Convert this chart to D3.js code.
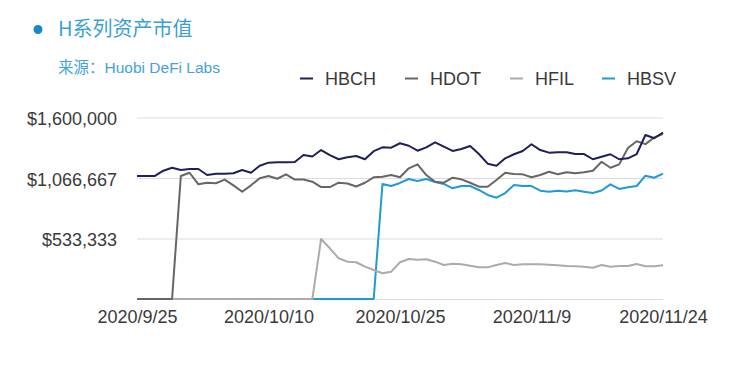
<!DOCTYPE html>
<html>
<head>
<meta charset="utf-8">
<script src="https://cdn.jsdelivr.net/npm/d3@7"></script>
<style>
  html, body { margin: 0; padding: 0; background: #fff; }
  svg { display: block; }
</style>
</head>
<body>
<svg id="chart" width="736" height="368"></svg>
<script>
// ---------- data (values in US$ thousands) ----------
const titleText = "H系列资产市值";
const sourceLabel = "来源：";
const sourceName = "Huobi DeFi Labs";
const startDate = "2020-09-25";
const endDate = "2020-11-24";
const seriesNames = ["HBCH", "HDOT", "HFIL", "HBSV"];
const seriesColors = ["#1f1f5c", "#666666", "#ababab", "#1f9ad6"];

const HBCH = [1084,1084,1084,1131,1157,1137,1146,1146,1093,1105,
              1105,1108,1137,1113,1175,1202,1205,1205,1208,1269,
              1256,1313,1269,1232,1250,1261,1232,1303,1337,1334,
              1373,1351,1307,1337,1381,1343,1305,1322,1349,1278,
              1193,1175,1240,1276,1305,1364,1313,1290,1293,1293,
              1278,1278,1232,1254,1276,1232,1240,1278,1446,1417,1468];
const HDOT = [0,0,0,0,0,1084,1113,1011,1025,1020,
              1053,1002,946,1002,1064,1084,1060,1099,1053,1053,
              1034,987,987,1025,1018,992,1025,1073,1078,1093,
              1073,1152,1187,1093,1034,1025,1069,1055,1025,990,
              990,1049,1113,1102,1099,1073,1093,1122,1099,1117,
              1108,1117,1131,1210,1157,1187,1331,1390,1365,1424,1456];
const HFIL = [0,0,0,0,0,0,0,0,0,0,
              0,0,0,0,0,0,0,0,0,0,
              0,529,447,359,329,324,285,256,227,241,
              324,353,346,350,329,300,311,306,294,279,
              279,300,317,300,306,306,306,302,297,291,
              288,285,276,300,285,291,291,309,288,288,297];
const HBSV = [0,0,0,0,0,0,0,0,0,0,
              0,0,0,0,0,0,0,0,0,0,
              0,0,0,0,0,0,0,0,1014,996,
              1023,1058,1040,1058,1031,1014,976,996,996,961,
              917,893,934,1005,996,996,955,946,955,948,
              958,946,934,956,1011,970,986,996,1087,1069,1105];

const xTickLabels = ["2020/9/25", "2020/10/10", "2020/10/25", "2020/11/9", "2020/11/24"];
const yTickValues = [0, 533333, 1066667, 1600000];
const yTickLabels = ["", "$533,333", "$1,066,667", "$1,600,000"];

// ---------- chart ----------
const svg = d3.select("#chart");
const parse = d3.utcParse("%Y-%m-%d");
const parseTick = d3.utcParse("%Y/%m/%d");
const dates = d3.utcDay.range(parse(startDate), d3.utcDay.offset(parse(endDate), 1));
const allSeries = [HBCH, HDOT, HFIL, HBSV];

const plot = { left: 137, right: 663, top: 117.5, bottom: 299 };

const x = d3.scaleUtc()
  .domain([parse(startDate), parse(endDate)])
  .range([plot.left, plot.right]);
const y = d3.scaleLinear()
  .domain([0, 1600000])
  .range([plot.bottom, plot.top]);

const font = "'Liberation Sans', Arial, Helvetica, sans-serif";
const cjk = "'Noto Sans CJK SC', sans-serif";

svg.append("rect").attr("width", 736).attr("height", 368).attr("fill", "#fff");

// Title
svg.append("circle").attr("cx", 38).attr("cy", 29.5).attr("r", 4.5).attr("fill", "#1789c8");
svg.append("text")
  .attr("x", 58).attr("y", 35.5)
  .attr("font-family", cjk)
  .attr("font-size", 20)
  .attr("fill", "#3a9fd7")
  .text(titleText);
const sub = svg.append("text")
  .attr("x", 58).attr("y", 72.5)
  .attr("font-size", 15.5)
  .attr("fill", "#45a3d9");
sub.append("tspan").attr("font-family", cjk).text(sourceLabel);
sub.append("tspan").attr("font-family", font).text(sourceName);

// Grid (y axis)
const yAxis = d3.axisLeft(y)
  .tickValues(yTickValues)
  .tickSize(-(plot.right - plot.left))
  .tickPadding(20)
  .tickFormat((d, i) => yTickLabels[i]);
const gy = svg.append("g")
  .attr("transform", `translate(${plot.left},0)`)
  .call(yAxis);
gy.select(".domain").remove();
gy.selectAll(".tick line").attr("stroke", "#dcdcdc").attr("stroke-width", 1);
gy.selectAll(".tick text")
  .attr("font-family", font).attr("font-size", 18).attr("fill", "#3a3a3a")
  .attr("dy", "0.4em");

// X axis labels
const xAxis = d3.axisBottom(x)
  .tickValues(xTickLabels.map(s => parseTick(s)))
  .tickSize(0)
  .tickPadding(11)
  .tickFormat((d, i) => xTickLabels[i]);
const gx = svg.append("g")
  .attr("transform", `translate(0,${plot.bottom})`)
  .call(xAxis);
gx.select(".domain").remove();
gx.selectAll(".tick text")
  .attr("font-family", font).attr("font-size", 18).attr("fill", "#3a3a3a");

// Lines (draw HBSV first, HBCH on top)
const line = d3.line()
  .x((d, i) => x(dates[i]))
  .y(d => y(d * 1000));
[3, 2, 1, 0].forEach(k => {
  svg.append("path")
    .datum(allSeries[k])
    .attr("fill", "none")
    .attr("stroke", seriesColors[k])
    .attr("stroke-width", 2)
    .attr("stroke-linejoin", "round")
    .attr("d", line);
});

// Legend
const legendX = [300, 405, 510, 602];
const lg = svg.append("g");
seriesNames.forEach((name, k) => {
  lg.append("line")
    .attr("x1", legendX[k]).attr("x2", legendX[k] + 13)
    .attr("y1", 78.5).attr("y2", 78.5)
    .attr("stroke", seriesColors[k]).attr("stroke-width", 2);
  lg.append("text")
    .attr("x", legendX[k] + 25).attr("y", 85)
    .attr("font-family", font).attr("font-size", 18).attr("fill", "#3a3a3a")
    .text(name);
});
</script>
</body>
</html>
